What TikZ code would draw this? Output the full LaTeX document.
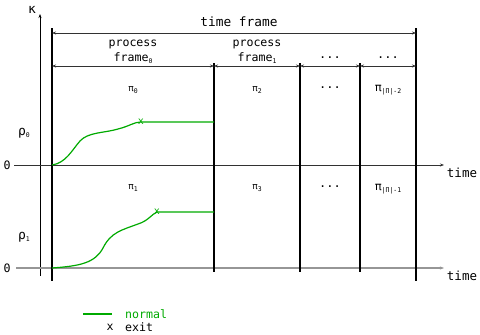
\documentclass[tikz,border=0pt]{standalone}
\usepackage{fontspec}
\setmainfont{DejaVu Sans Mono}
\usetikzlibrary{arrows.meta}
\definecolor{grn}{RGB}{0,170,0}
\definecolor{axdark}{RGB}{50,50,50}
\definecolor{axlight}{RGB}{150,150,150}
\newcommand{\mysub}[1]{\raisebox{-0.35ex}{\fontsize{6.5}{7}\selectfont #1}}
\tikzset{
  lbl/.style={inner sep=0pt, font=\fontsize{11.6}{13}\selectfont},
  tflbl/.style={inner sep=0pt, font=\fontsize{12.8}{14}\selectfont},
  pilbl/.style={inner sep=0pt, font=\fontsize{9}{10}\selectfont},
  pibig/.style={inner sep=0pt, font=\fontsize{11.5}{13}\selectfont},
  dots/.style={inner sep=0pt, font=\fontsize{12}{13}\selectfont},
  greek/.style={inner sep=0pt, font=\fontsize{13}{14}\selectfont},
  big/.style={inner sep=0pt, font=\fontsize{12.5}{14}\selectfont},
  thickbar/.style={line width=2.6pt},
  thinbar/.style={line width=1.1pt},
  tip/.style={-{Stealth[length=4pt,width=3pt]}},
  dtip/.style={{Stealth[length=4pt,width=3pt]}-{Stealth[length=4pt,width=3pt]}},
  curve/.style={grn, line width=1.2pt},
}
\begin{document}
\begin{tikzpicture}[x=1pt,y=-1pt]
\useasboundingbox (0,0) rectangle (480,335);
% coordinates
\coordinate (kb) at (40,276);
\coordinate (kt) at (40,14);
\coordinate (u0) at (14,165);
\coordinate (u1) at (444,165);
\coordinate (l0) at (16,268);
\coordinate (l1) at (444,268);
\coordinate (A0) at (52,28); \coordinate (A1) at (52,281);
\coordinate (E0) at (416,28); \coordinate (E1) at (416,281);
\coordinate (B0) at (214,63); \coordinate (B1) at (214,272);
\coordinate (C0) at (300,63); \coordinate (C1) at (300,272);
\coordinate (D0) at (360,63); \coordinate (D1) at (360,272);
\coordinate (tfL) at (52,33); \coordinate (tfR) at (416,33);
\coordinate (p0) at (52,66); \coordinate (p1) at (214,66);
\coordinate (p2) at (300,66); \coordinate (p3) at (360,66); \coordinate (p4) at (416,66);
% axes
\draw[tip, line width=0.6pt] (kb) -- (kt);
\draw[tip, axdark, line width=0.9pt] (u0) -- (u1);
\draw[tip, axlight, line width=1.1pt] (l0) -- (l1);
% bars
\draw[thickbar] (A0) -- (A1);
\draw[thickbar] (E0) -- (E1);
\draw[thinbar] (B0) -- (B1);
\draw[thinbar] (C0) -- (C1);
\draw[thinbar] (D0) -- (D1);
% frame arrows
\draw[dtip, axdark, line width=0.6pt] (tfL) -- (tfR);
\draw[dtip, axdark, line width=0.6pt] (p0) -- (p1);
\draw[dtip, axdark, line width=0.6pt] (p1) -- (p2);
\draw[dtip, axdark, line width=0.6pt] (p2) -- (p3);
\draw[dtip, axdark, line width=0.6pt] (p3) -- (p4);
% labels
\node[greek] (kap) at (32,10) {κ};
\node[tflbl] (tf) at (239,22) {time frame};
\node[lbl] (pf0a) at (133,44) {process};
\node[lbl] (pf0b) at (133,58) {frame\mysub{0}};
\node[lbl] (pf1a) at (257,44) {process};
\node[lbl] (pf1b) at (257,58) {frame\mysub{1}};
\node[dots] (dd1) at (330,58) {...};
\node[dots] (dd2) at (388,58) {...};
\node[pilbl] (pi0) at (133,90) {π\mysub{0}};
\node[pilbl] (pi2) at (257,90) {π\mysub{2}};
\node[dots] (dd3) at (330,88) {...};
\node[pibig] (pim2) at (388,90) {π\mysub{|Π|-2}};
\node[pilbl] (pi1) at (133,188) {π\mysub{1}};
\node[pilbl] (pi3) at (257,188) {π\mysub{3}};
\node[dots] (dd4) at (330,187) {...};
\node[pibig] (pim1) at (388,189) {π\mysub{|Π|-1}};
\node[greek] (rho0) at (24,133) {ρ\mysub{0}};
\node[greek] (rho1) at (24,237) {ρ\mysub{1}};
\node[lbl] (z0) at (7,165) {0};
\node[lbl] (z1) at (7,268) {0};
\node[big] (t0) at (462,173) {time};
\node[big] (t1) at (462,276) {time};
% curves
\coordinate (c0s) at (52,165);
\coordinate (c0x) at (141,122);
\coordinate (c0e) at (214,122);
\draw[curve] (c0s) .. controls (66,163) and (72,150) .. (80,141)
  .. controls (88,132) and (105,133) .. (118,129)
  .. controls (130,126) and (134,122) .. (c0x) -- (c0e);
\node[grn, inner sep=0pt, font=\fontsize{10}{11}\selectfont] (x0) at (c0x) {x};
\coordinate (c1s) at (52,268);
\coordinate (c1x) at (157,212);
\coordinate (c1e) at (214,212);
\draw[curve] (c1s) .. controls (80,266) and (95,263) .. (103,248)
  .. controls (111,232) and (122,230) .. (138,224)
  .. controls (148,221) and (152,214) .. (c1x) -- (c1e);
\node[grn, inner sep=0pt, font=\fontsize{10}{11}\selectfont] (x1) at (c1x) {x};
% legend
\coordinate (lg0) at (83,314); \coordinate (lg1) at (112,314);
\draw[curve] (lg0) -- (lg1);
\node[lbl, grn, anchor=west] (nrm) at (125,314) {normal};
\node[lbl] (lx) at (110,327) {x};
\node[lbl, anchor=west] (lex) at (125,327) {exit};
\end{tikzpicture}
\end{document}
